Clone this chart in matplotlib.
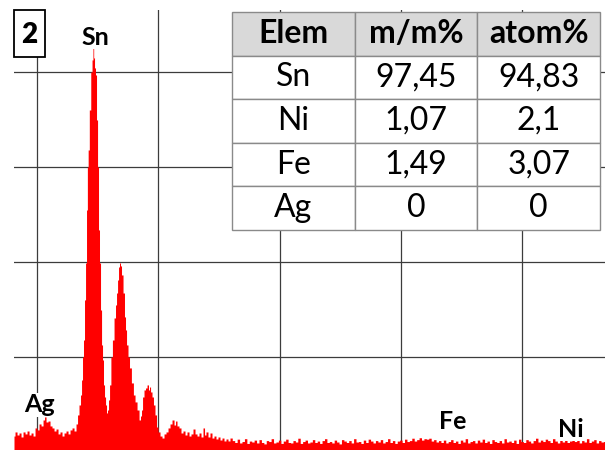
import matplotlib
matplotlib.use("Agg")
import matplotlib.pyplot as plt
from matplotlib.patches import Rectangle

# EDS spectrum: energy (keV) and counts
energy = [2.810, 2.827, 2.843, 2.860, 2.876, 2.893, 2.909, 2.926, 2.942, 2.959,
          2.975, 2.992, 3.008, 3.025, 3.041, 3.058, 3.066, 3.082, 3.099, 3.115,
          3.132, 3.148, 3.165, 3.181, 3.198, 3.214, 3.231, 3.247, 3.264, 3.280,
          3.297, 3.313, 3.330, 3.338, 3.354, 3.363, 3.371, 3.379, 3.387, 3.396,
          3.404, 3.412, 3.418, 3.425, 3.437, 3.449, 3.458, 3.464, 3.470, 3.478,
          3.486, 3.495, 3.503, 3.511, 3.519, 3.528, 3.536, 3.544, 3.552, 3.561,
          3.569, 3.577, 3.585, 3.594, 3.602, 3.616, 3.627, 3.643, 3.651, 3.660,
          3.668, 3.676, 3.684, 3.692, 3.701, 3.717, 3.725, 3.734, 3.742, 3.758,
          3.767, 3.789, 3.800, 3.816, 3.833, 3.849, 3.857, 3.866, 3.874, 3.890,
          3.899, 3.915, 3.923, 3.932, 3.940, 3.956, 3.964, 3.981, 3.989, 4.006,
          4.022, 4.039, 4.055, 4.072, 4.088, 4.105, 4.121, 4.138, 4.146, 4.162,
          4.179, 4.195, 4.212, 4.228, 4.245, 4.261, 4.278, 4.294, 4.311, 4.327,
          4.344, 4.360, 4.377, 4.385, 4.401, 4.418, 4.434, 4.451, 4.467, 4.484,
          4.500, 4.517, 4.533, 4.550, 4.566, 4.583, 4.599,
          4.62, 4.64, 4.66, 4.68, 4.70, 4.72, 4.74, 4.76, 4.78, 4.80,
          4.82, 4.84, 4.86, 4.88, 4.90, 4.92, 4.94, 4.96, 4.98, 5.00,
          5.02, 5.04, 5.06, 5.08, 5.10, 5.12, 5.14, 5.16, 5.18, 5.20,
          5.22, 5.24, 5.26, 5.28, 5.30, 5.32, 5.34, 5.36, 5.38, 5.40,
          5.42, 5.44, 5.46, 5.48, 5.50, 5.52, 5.54, 5.56, 5.58, 5.60,
          5.62, 5.64, 5.66, 5.68, 5.70, 5.72, 5.74, 5.76, 5.78, 5.80,
          5.82, 5.84, 5.86, 5.88, 5.90, 5.92, 5.94, 5.96, 5.98, 6.00,
          6.02, 6.04, 6.06, 6.08, 6.10, 6.12, 6.14, 6.16, 6.18, 6.20,
          6.22, 6.24, 6.26, 6.28, 6.30, 6.32, 6.34, 6.36, 6.38, 6.40,
          6.42, 6.44, 6.46, 6.48, 6.50, 6.52, 6.54, 6.56, 6.58, 6.60,
          6.62, 6.64, 6.66, 6.68, 6.70, 6.72, 6.74, 6.76, 6.78, 6.80,
          6.82, 6.84, 6.86, 6.88, 6.90, 6.92, 6.94, 6.96, 6.98, 7.00,
          7.02, 7.04, 7.06, 7.08, 7.10, 7.12, 7.14, 7.16, 7.18, 7.20,
          7.22, 7.24, 7.26, 7.28, 7.30, 7.32, 7.34, 7.36, 7.38, 7.40,
          7.42, 7.44, 7.46, 7.48, 7.50, 7.52, 7.54, 7.56, 7.58, 7.60,
          7.62, 7.64, 7.66, 7.68]
counts = [168, 211, 179, 200, 158, 211, 190, 221, 179, 200,
          168, 253, 232, 295, 274, 337, 369, 316, 326, 274,
          253, 221, 242, 190, 211, 168, 200, 221, 190, 232,
          253, 221, 295, 390, 495, 600, 758, 1000, 1179, 1601,
          1990, 2548, 3001, 3180, 3601, 4001, 4128, 4265, 4149, 4044,
          3970, 3496, 3001, 2338, 1990, 1495, 1127, 969, 706, 579,
          495, 411, 442, 548, 706, 1000, 1179, 1411, 1548, 1674,
          1811, 1948, 1990, 1959, 1864, 1674, 1422, 1285, 1127, 1000,
          885, 727, 600, 527, 442, 337, 379, 442, 579, 653,
          674, 706, 653, 684, 632, 579, 495, 390, 263, 211,
          168, 147, 190, 211, 253, 295, 337, 284, 326, 274,
          253, 200, 221, 179, 211, 168, 190, 242, 190, 168,
          200, 158, 253, 179, 211, 158, 200, 147, 168, 137,
          158, 126, 147, 116, 137, 116, 147,
          120, 100, 135, 95, 110, 140, 90, 115, 105, 125,
          95, 130, 100, 85, 120, 110, 140, 95, 105, 125,
          90, 115, 135, 100, 95, 120, 105, 145, 90, 110,
          125, 95, 105, 130, 100, 115, 90, 120, 140, 100,
          110, 95, 125, 105, 85, 130, 115, 100, 120, 95,
          140, 105, 110, 90, 125, 100, 135, 115, 95, 120,
          105, 130, 95, 110, 140, 100, 120, 90, 115, 125,
          100, 135, 110, 120, 145, 115, 130, 150, 125, 140,
          135, 145, 115, 130, 105, 120, 100, 125, 95, 110,
          130, 100, 115, 90, 125, 105, 140, 95, 110, 120,
          95, 125, 105, 135, 100, 115, 90, 130, 110, 100,
          120, 95, 140, 105, 115, 100, 125, 90, 135, 110,
          100, 130, 115, 95, 120, 145, 105, 125, 110, 135,
          120, 100, 140, 115, 95, 125, 105, 130, 100, 115,
          135, 110, 125, 95, 120, 105, 140, 100, 115, 130,
          95, 120, 105, 110]

# peak labels
peak_names = ["Sn", "Ag", "Fe", "Ni"]
peak_energy = [3.48, 3.02, 6.43, 7.40]
peak_counts = [4290, 420, 240, 160]

# composition table
col_labels = ["Elem", "m/m%", "atom%"]
elements = ["Sn", "Ni", "Fe", "Ag"]
mass_pct = ["97,45", "1,07", "1,49", "0"]
atom_pct = ["94,83", "2,1", "3,07", "0"]

W, H = 605, 450
fig = plt.figure(figsize=(W / 100, H / 100), dpi=100)

ax = fig.add_axes([14 / W, 0, 591 / W, 440 / H])
ax.fill_between(energy, counts, 0, step="mid", color="#ff0000", lw=0, zorder=2)
ax.set_xlim(2.81, 7.683)
ax.set_ylim(21, 4654)
ax.set_xticks([3, 4, 5, 6, 7])
ax.set_yticks([1000, 2000, 3000, 4000])
ax.grid(True, color="#3c3c3c", lw=0.9)
ax.set_axisbelow(True)
ax.tick_params(length=0, labelbottom=False, labelleft=False)
for s in ax.spines.values():
    s.set_visible(False)

for name, e, c in zip(peak_names, peak_energy, peak_counts):
    ax.text(e, c, name, ha="center", va="baseline", fontsize=18,
            fontweight="bold", family="Lato", color="black", zorder=5,
            bbox=dict(facecolor="white", edgecolor="none", pad=0.3))

# sample number box
fig.patches.append(Rectangle((14 / W, 1 - 57 / H), 31 / W, 47 / H,
                             transform=fig.transFigure, facecolor="white",
                             edgecolor="black", lw=1.3, zorder=5))
fig.text(29.5 / W, 1 - 43 / H, "2", ha="center", va="baseline",
         fontsize=20, fontweight="heavy", family="Lato", zorder=6)

# table
tax = fig.add_axes([232 / W, 1 - 230 / H, 368 / W, 218 / H])
tax.axis("off")
rows = [[e, m, a] for e, m, a in zip(elements, mass_pct, atom_pct)]
tbl = tax.table(cellText=rows, colLabels=col_labels, cellLoc="center",
                bbox=[0, 0, 1, 1])
tbl.auto_set_font_size(False)
for (r, c), cell in tbl.get_celld().items():
    cell.set_edgecolor("#8a8a8a")
    cell.set_linewidth(1.0)
    txt = cell.get_text()
    txt.set_family("Lato")
    if r == 0:
        cell.set_facecolor("#d9d9d9")
        txt.set_fontsize(23)
        txt.set_fontweight("bold")
    else:
        cell.set_facecolor("white")
        txt.set_fontsize(23)

fig.savefig("out.png", dpi=100)
